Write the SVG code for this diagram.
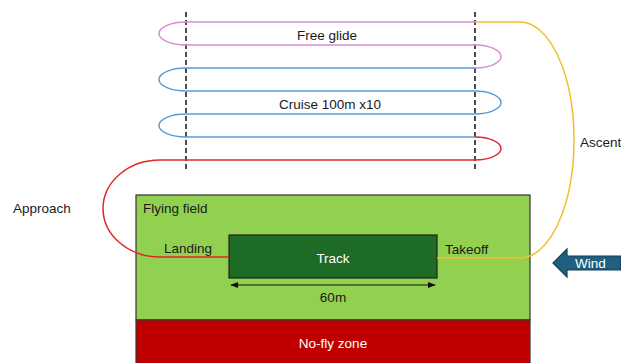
<svg xmlns="http://www.w3.org/2000/svg" width="621" height="363" viewBox="0 0 621 363">
<defs>
<style>
text{font-family:"Liberation Sans",Arial,sans-serif;font-size:13.5px;fill:#1a1a1a;dominant-baseline:central}
.w{fill:#ffffff}
.c{text-anchor:middle}
.p{fill:none;stroke-width:1.5}
.dash{stroke:#111;stroke-width:1.5;stroke-dasharray:5 3;fill:none}
</style>
<marker id="ah" viewBox="0 0 10 10" refX="9" refY="5" markerWidth="8" markerHeight="8" markerUnits="userSpaceOnUse" orient="auto-start-reverse">
<path d="M0,1 L10,5 L0,9 Z" fill="#111"/>
</marker>
</defs>
<rect width="621" height="363" fill="#ffffff"/>
<g id="flying-field">
<rect x="136" y="195" width="394" height="125" fill="#92D050" stroke="#333" stroke-width="1.2"/>
<text x="143" y="208">Flying field</text>
</g>
<g id="no-fly-zone">
<rect x="136" y="320" width="394" height="50" fill="#C00000" stroke="#333" stroke-width="1.2"/>
<text class="w c" x="333" y="343">No-fly zone</text>
</g>
<g id="track">
<rect x="229" y="235" width="208" height="43" fill="#1D6B25" stroke="#222" stroke-width="1.2"/>
<text class="w c" x="333" y="258">Track</text>
</g>
<g id="wind">
<path d="M553,263 L567,249 L567,256 L621,256 L621,270 L567,270 L567,277 Z" fill="#1F5F80" stroke="#163f55" stroke-width="1.2"/>
<text class="w" x="575" y="263">Wind</text>
</g>
<g id="connectors">
<path class="dash" d="M186,12 V170 M475,12 V170"/>
<path class="p" stroke="#D98BD6" d="M475,22 H186 A27 11.5 0 0 0 186,45 H475 A26 11.5 0 0 1 475,68"/>
<path class="p" stroke="#5B9BD5" d="M475,68 H186 A27 11.5 0 0 0 186,91 H475 A26 11.5 0 0 1 475,114 H186 A27 11.5 0 0 0 186,137 H475"/>
<path class="p" stroke="#E02828" d="M475,137 A26 11.5 0 0 1 475,160 H160 A57 48.5 0 0 0 160,257 H229"/>
<path class="p" stroke="#F3BE2E" d="M475,22 H520 A54 118 0 0 1 520,258 H437"/>
<line x1="231" y1="285" x2="435" y2="285" stroke="#111" stroke-width="1.2" marker-start="url(#ah)" marker-end="url(#ah)"/>
</g>
<g id="labels">
<text class="c" x="327" y="35">Free glide</text>
<text class="c" x="330" y="104">Cruise 100m x10</text>
<text x="580" y="142">Ascent</text>
<text x="13" y="208">Approach</text>
<text x="164" y="248">Landing</text>
<text x="445" y="249">Takeoff</text>
<text class="c" x="333" y="297">60m</text>
</g>
</svg>
